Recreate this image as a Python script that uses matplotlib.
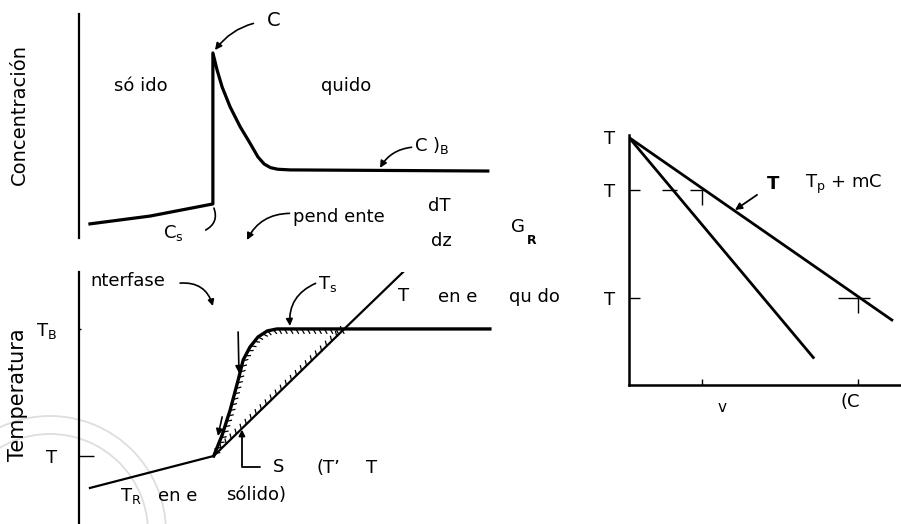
import matplotlib
matplotlib.use('Agg')
import matplotlib.pyplot as plt
from matplotlib import patheffects
from matplotlib.patches import Arc

plt.rcParams['font.family'] = ['DejaVu Sans']
plt.rcParams['mathtext.fontset'] = 'dejavusans'

# perfil de concentración (distancia z, concentración C)
z_conc = [0.26, 1.69, 3.18, 3.18, 3.28, 3.40, 3.59, 3.83, 4.06, 4.25, 4.40, 4.55, 4.72, 5.01, 9.71]
c_conc = [0.63, 0.98, 1.52, 8.26, 7.50, 6.74, 5.85, 4.96, 4.24, 3.62, 3.30, 3.14, 3.07, 3.04, 2.99]
z_int = 3.18

# temperatura real (lineal en sólido y en líquido)
z_real = [0.26, 3.2, 6.3, 7.7]
t_real = [1.43, 2.7, 7.74, 10.0]

# temperatura de líquidus frente a la interfase
z_liq = [3.2, 3.40, 3.59, 3.78, 3.90, 4.06, 4.25, 4.47, 4.70, 6.3, 9.76]
t_liq = [2.7, 3.53, 4.52, 5.71, 6.51, 7.02, 7.42, 7.66, 7.74, 7.74, 7.74]
n_sub = 10  # puntos hasta el cruce (zona subenfriada)
t_b = 7.74
t_i = 2.7

# diagrama de fases: líquidus y sólidus
c_liqd = [0.0, 9.7]
t_liqd = [9.9, 2.6]
c_sold = [0.0, 6.8]
t_sold = [9.9, 1.1]
t_ticks = [9.9, 7.8, 3.48]
c_ticks = [2.69, 8.45]

W, H = 901, 524


def caja(izq, arr, der, abj):
    return [izq / W, 1 - abj / H, (der - izq) / W, (abj - arr) / H]


fig = plt.figure(figsize=(W / 100, H / 100), dpi=100)

# sello de fondo
bg = fig.add_axes([0, 0, 1, 1], zorder=-5)
bg.set_xlim(0, W)
bg.set_ylim(H, 0)
bg.axis('off')
for d in (232, 196):
    bg.add_patch(Arc((50, 532), d, d, color='#dedede', lw=1.3))

fs = 13

# ---------- concentración ----------
ax1 = fig.add_axes(caja(79, 14, 500, 238))
ax1.set_facecolor('none')
ax1.plot(z_conc, c_conc, color='k', lw=2.3, solid_joinstyle='round')
ax1.set_xlim(0, 10)
ax1.set_ylim(0, 10)
for s in ['top', 'right', 'bottom']:
    ax1.spines[s].set_visible(False)
ax1.spines['left'].set_linewidth(1.6)
ax1.set_xticks([])
ax1.set_yticks([])
ax1.set_ylabel('Concentración', fontsize=14)
ax1.yaxis.set_label_coords(-0.119, 0.55)

ax1.annotate('C', xy=(z_int + 0.05, 8.39), xytext=(4.63, 9.69), fontsize=14,
             ha='center', va='center', annotation_clip=False,
             arrowprops=dict(arrowstyle='-|>', color='k', lw=1.2, shrinkA=8, shrinkB=0,
                             connectionstyle='arc3,rad=0.25', mutation_scale=10))
ax1.text(1.48, 6.79, 'só ido', fontsize=fs, ha='center', va='center')
ax1.text(6.34, 6.79, 'quido', fontsize=fs, ha='center', va='center')
ax1.text(7.95, 4.11, r'C )$_\mathrm{B}$', fontsize=fs, ha='left', va='center')
ax1.annotate('', xy=(7.15, 3.13), xytext=(7.9, 4.05), annotation_clip=False,
             arrowprops=dict(arrowstyle='-|>', color='k', lw=1.2, shrinkA=0, shrinkB=0,
                             connectionstyle='arc3,rad=0.25', mutation_scale=10))
ax1.text(1.99, 0.22, r'C$_\mathrm{s}$', fontsize=fs, ha='left', va='center', clip_on=False)
ax1.annotate('', xy=(z_int, 1.45), xytext=(2.95, 0.3), annotation_clip=False,
             arrowprops=dict(arrowstyle='-', color='k', lw=1.2,
                             connectionstyle='arc3,rad=0.5'))
ax1.text(5.08, 0.94, 'pend ente', fontsize=fs, ha='left', va='center')
ax1.annotate('', xy=(3.99, -0.09), xytext=(5.0, 1.1), annotation_clip=False,
             arrowprops=dict(arrowstyle='-|>', color='k', lw=1.2, shrinkA=0, shrinkB=0,
                             connectionstyle='arc3,rad=0.3', mutation_scale=10))
ax1.text(8.55, 1.43, 'dT', fontsize=fs, ha='center', va='center')
ax1.text(8.60, -0.13, 'dz', fontsize=fs, ha='center', va='center', clip_on=False)
ax1.text(10.43, 0.49, 'G', fontsize=fs, ha='center', va='center', clip_on=False)
ax1.text(10.76, -0.13, 'R', fontsize=9, fontweight='bold', ha='center', va='center',
         clip_on=False)

# ---------- temperatura ----------
ax2 = fig.add_axes(caja(79, 272, 500, 524))
ax2.set_facecolor('none')
ax2.plot(z_real, t_real, color='k', lw=1.6)
ax2.plot(z_liq, t_liq, color='k', lw=2.4, solid_joinstyle='round')
# rayado de la zona subenfriada
ax2.plot(z_liq[:n_sub], t_liq[:n_sub], color='k', lw=1,
         path_effects=[patheffects.TickedStroke(spacing=4, angle=-60, length=0.9, linewidth=0.9)])
ax2.plot(z_real[1:3], t_real[1:3], color='k', lw=1,
         path_effects=[patheffects.TickedStroke(spacing=5, angle=60, length=0.7, linewidth=0.9)])
ax2.set_xlim(0, 10)
ax2.set_ylim(0, 10)
for s in ['top', 'right', 'bottom']:
    ax2.spines[s].set_visible(False)
ax2.spines['left'].set_linewidth(1.6)
ax2.set_xticks([])
ax2.set_yticks([t_i, t_b])
ax2.set_yticklabels(['T', r'T$_\mathrm{B}$'], fontsize=fs)
ax2.tick_params(axis='y', direction='in', length=11, width=1.0, pad=16)
ax2.yaxis.get_major_ticks()[1].tick1line.set_markersize(1.5)
ax2.set_ylabel('Temperatura', fontsize=15)
ax2.yaxis.set_label_coords(-0.121, 0.512)

ax2.text(0.26, 9.64, 'nterfase', fontsize=fs, ha='left', va='center')
ax2.annotate('', xy=(3.18, 8.65), xytext=(2.4, 9.56), annotation_clip=False,
             arrowprops=dict(arrowstyle='-|>', color='k', lw=1.2, shrinkA=0, shrinkB=0,
                             connectionstyle='arc3,rad=-0.4', mutation_scale=9))
ax2.text(5.68, 9.52, r'T$_\mathrm{s}$', fontsize=fs, ha='left', va='center')
ax2.annotate('', xy=(5.01, 7.86), xytext=(5.62, 9.55), annotation_clip=False,
             arrowprops=dict(arrowstyle='-|>', color='k', lw=1.2, shrinkA=0, shrinkB=0,
                             connectionstyle='arc3,rad=0.35', mutation_scale=10))
ax2.text(7.72, 9.05, 'T', fontsize=fs, ha='center', va='center')
ax2.text(9.0, 9.0, 'en e', fontsize=fs, ha='center', va='center')
ax2.text(10.81, 9.0, 'qu do', fontsize=fs, ha='center', va='center', clip_on=False)
ax2.annotate('', xy=(3.80, 5.99), xytext=(3.78, 7.62),
             arrowprops=dict(arrowstyle='-|>', color='k', lw=1.2, shrinkA=0, shrinkB=0,
                             mutation_scale=10))
ax2.annotate('', xy=(3.30, 3.49), xytext=(3.40, 4.25),
             arrowprops=dict(arrowstyle='-|>', color='k', lw=1.2, shrinkA=0, shrinkB=0,
                             mutation_scale=10))
ax2.annotate('S', xy=(3.87, 3.75), xytext=(4.73, 2.25), fontsize=fs, ha='center',
             va='center',
             arrowprops=dict(arrowstyle='-|>', color='k', lw=1.3, shrinkA=7, shrinkB=0,
                             connectionstyle='angle,angleA=0,angleB=90,rad=0',
                             mutation_scale=9))
ax2.text(5.63, 2.22, '(T\u2019', fontsize=fs, ha='left', va='center')
ax2.text(6.94, 2.22, 'T', fontsize=fs, ha='center', va='center')
ax2.text(0.98, 1.1, r'T$_\mathrm{R}$', fontsize=fs, ha='left', va='center')
ax2.text(2.35, 1.1, 'en e', fontsize=fs, ha='center', va='center')
ax2.text(4.2, 1.15, 'sólido)', fontsize=fs, ha='center', va='center')

# ---------- diagrama de fases ----------
ax3 = fig.add_axes(caja(629, 135, 900, 385))
ax3.set_facecolor('none')
ax3.plot(c_liqd, t_liqd, color='k', lw=2.0)
ax3.plot(c_sold, t_sold, color='k', lw=2.0)
ax3.set_xlim(0, 10)
ax3.set_ylim(0, 10)
for s in ['top', 'right']:
    ax3.spines[s].set_visible(False)
ax3.spines['left'].set_linewidth(1.8)
ax3.spines['bottom'].set_linewidth(1.8)
ax3.set_yticks(t_ticks)
ax3.set_yticklabels(['T', 'T', 'T'], fontsize=fs)
ax3.tick_params(axis='y', direction='in', length=8, width=1.0, pad=10)
ax3.yaxis.get_major_ticks()[0].tick1line.set_markersize(0)
ax3.set_xticks(c_ticks)
ax3.set_xticklabels(['', ''])
ax3.tick_params(axis='x', direction='in', length=4, width=1.0)

# marcas de construcción sobre las rectas
ax3.hlines(t_ticks[1], 1.22, 1.77, color='k', lw=1.0)
ax3.hlines(t_ticks[1:], [2.25, 7.71], [2.80, 8.89], color='k', lw=1.0)
ax3.vlines(c_ticks, [t_ticks[1] - 0.6, t_ticks[2] - 0.6], t_ticks[1:], color='k', lw=1.0)

ax3.text(3.43, -0.88, 'v', fontsize=11, ha='center', va='center', clip_on=False)
ax3.text(8.15, -0.68, '(C', fontsize=fs, ha='center', va='center', clip_on=False)
ax3.annotate('T', xy=(3.91, 7.0), xytext=(5.31, 8.04), fontsize=fs, fontweight='bold',
             ha='center', va='center',
             arrowprops=dict(arrowstyle='-|>', color='k', lw=1.3, shrinkA=6, shrinkB=0,
                             mutation_scale=10))
ax3.text(6.49, 8.04, r'T$_\mathrm{p}$ + mC', fontsize=fs, ha='left', va='center',
         clip_on=False)

fig.savefig('out.png', dpi=100)
